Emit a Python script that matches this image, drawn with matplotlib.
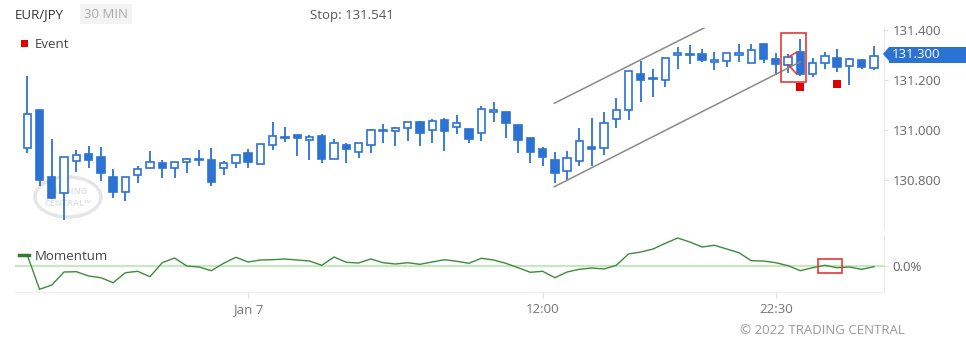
import numpy as np
import matplotlib
matplotlib.use("Agg")
import matplotlib.pyplot as plt
from matplotlib.patches import Rectangle, Ellipse, Polygon

plt.rcParams['font.family'] = ['Open Sans', 'DejaVu Sans']

# 30 min candles, EUR/JPY
opens = [130.927, 131.079, 130.812, 130.747, 130.875, 130.903, 130.891, 130.812, 130.753, 130.820,
         130.849, 130.868, 130.849, 130.871, 130.885, 130.879, 130.849, 130.867, 130.907, 130.865,
         130.939, 130.969, 130.979, 130.960, 130.976, 130.883, 130.939, 130.911, 130.939, 130.995,
         130.996, 131.007, 131.032, 131.001, 131.040, 131.013, 131.005, 130.987, 131.071, 131.073,
         131.019, 130.968, 130.924, 130.879, 130.835, 130.877, 130.933, 130.929, 131.044, 131.080,
         131.223, 131.203, 131.200, 131.300, 131.305, 131.304, 131.272, 131.276, 131.299, 131.269,
         131.343, 131.283, 131.261, 131.311, 131.225, 131.267, 131.288, 131.255, 131.280, 131.247]
highs = [131.216, 131.079, 130.963, 130.893, 130.920, 130.936, 130.932, 130.843, 130.811, 130.856,
         130.916, 130.880, 130.871, 130.888, 130.919, 130.928, 130.877, 130.899, 130.923, 130.944,
         131.031, 131.012, 130.981, 130.979, 130.983, 130.964, 130.947, 130.947, 131.004, 131.023,
         131.013, 131.033, 131.037, 131.045, 131.048, 131.059, 131.005, 131.096, 131.111, 131.073,
         131.019, 130.968, 130.933, 130.911, 130.916, 131.009, 131.048, 131.072, 131.129, 131.236,
         131.276, 131.243, 131.288, 131.331, 131.339, 131.324, 131.311, 131.309, 131.344, 131.344,
         131.343, 131.309, 131.304, 131.363, 131.287, 131.312, 131.325, 131.288, 131.283, 131.337]
lows = [130.907, 130.777, 130.724, 130.640, 130.833, 130.847, 130.795, 130.727, 130.717, 130.787,
        130.847, 130.807, 130.807, 130.827, 130.857, 130.777, 130.820, 130.847, 130.847, 130.864,
        130.920, 130.951, 130.897, 130.881, 130.868, 130.883, 130.867, 130.889, 130.908, 130.949,
        130.937, 130.957, 130.937, 130.949, 130.917, 130.985, 130.949, 130.957, 131.031, 130.969,
        130.908, 130.868, 130.857, 130.789, 130.800, 130.857, 130.857, 130.899, 131.009, 131.040,
        131.111, 131.131, 131.171, 131.243, 131.263, 131.271, 131.241, 131.251, 131.273, 131.269,
        131.269, 131.220, 131.227, 131.216, 131.212, 131.243, 131.232, 131.179, 131.243, 131.241]
closes = [131.063, 130.800, 130.729, 130.893, 130.899, 130.879, 130.827, 130.751, 130.811, 130.845,
          130.871, 130.848, 130.871, 130.885, 130.879, 130.792, 130.867, 130.899, 130.873, 130.943,
          130.975, 130.973, 130.967, 130.971, 130.884, 130.947, 130.924, 130.947, 130.999, 130.997,
          131.007, 131.031, 130.988, 131.035, 130.995, 131.027, 130.965, 131.084, 131.079, 131.029,
          130.960, 130.913, 130.892, 130.827, 130.887, 130.957, 130.925, 131.028, 131.079, 131.236,
          131.199, 131.207, 131.287, 131.309, 131.299, 131.281, 131.281, 131.309, 131.308, 131.320,
          131.285, 131.263, 131.291, 131.225, 131.267, 131.295, 131.252, 131.285, 131.251, 131.297]

# momentum (%)
momentum = [0.107, -0.236, -0.193, -0.063, -0.060, -0.103, -0.120, -0.170, -0.070, -0.056,
            -0.110, 0.030, 0.077, -0.003, -0.013, -0.050, 0.024, 0.084, 0.037, 0.057,
            0.060, 0.067, 0.057, 0.047, 0.004, 0.087, 0.034, 0.027, 0.067, 0.030,
            0.017, 0.030, 0.014, 0.037, 0.060, 0.044, 0.024, 0.074, 0.057, 0.024,
            -0.020, -0.066, -0.056, -0.120, -0.063, -0.036, -0.023, -0.033, 0.004, 0.117,
            0.137, 0.167, 0.224, 0.277, 0.237, 0.187, 0.204, 0.167, 0.130, 0.050,
            0.047, 0.030, 0.000, -0.050, -0.020, 0.004, -0.020, -0.013, -0.036, -0.010]

time_ticks = [18, 42, 61]
time_labels = ["Jan 7", "12:00", "22:30"]
price_ticks = [130.8, 131.0, 131.2, 131.4]
event_idx = [63, 66]
event_price = [131.173, 131.184]
# channel lines (start/end index, price)
channel_upper = ([42.95, 55.15], [131.107, 131.408])
channel_lower = ([42.95, 62.97], [130.773, 131.272])
last_price = 131.300
stop = 131.541

W, H = 966, 348
blue = '#2b72d3'
grey = '#666666'


def fx(x):
    return x / W


def fy(y):
    return 1 - y / H


fig = plt.figure(figsize=(W / 100, H / 100), dpi=100)
ax = fig.add_axes([fx(15), fy(228), fx(884 - 15), (228 - 28) / H])
axm = fig.add_axes([fx(15), fy(292), fx(884 - 15), (292 - 236) / H])

# candles
bw = 0.6
for i in range(len(opens)):
    o, h, l, c = opens[i], highs[i], lows[i], closes[i]
    ax.plot([i, i], [l, h], color=blue, lw=1.3, zorder=2, solid_capstyle='butt')
    bot = min(o, c)
    ht = max(abs(c - o), 0.003)
    face = 'white' if c >= o else blue
    ax.add_patch(Rectangle((i - bw / 2, bot), bw, ht, facecolor=face,
                           edgecolor=blue, lw=1.2, zorder=3))

# trend channel
ax.plot(channel_upper[0], channel_upper[1], color='#8a8a8a', lw=1.1, zorder=4)
ax.plot(channel_lower[0], channel_lower[1], color='#8a8a8a', lw=1.1, zorder=4)

# pattern highlight
ax.add_patch(Rectangle((61.42, 131.193), 2.02, 0.194, fill=False,
                       edgecolor='#e53935', lw=1.2, zorder=5))
ax.plot([62, 62.7], [closes[62], opens[63]], color='#e53935', lw=1.1, zorder=5)
ax.plot([62, 62.7], [opens[62], closes[63]], color='#e53935', lw=1.1, zorder=5)

ax.scatter(event_idx, event_price, marker='s', s=30, color='#e00000', zorder=5, linewidths=0)

ax.set_xlim(-1.0, 69.82)
ax.set_ylim(131 - 98 / 250, 131 + 102 / 250)
ax.yaxis.tick_right()
ax.set_yticks(price_ticks)
ax.set_yticklabels([f"{p:.3f}" for p in price_ticks])
ax.tick_params(axis='y', colors='#e0e0e0', labelcolor=grey, labelsize=9.5, length=3, pad=3)
ax.set_xticks([])
for s in ['top', 'left', 'bottom']:
    ax.spines[s].set_visible(False)
ax.spines['right'].set_color('#e8e8e8')

# watermark
ax.add_patch(Ellipse((fx(68), fy(197)), fx(66), 40 / H, transform=fig.transFigure,
                     fill=False, edgecolor='#e6e6e6', lw=2.5, zorder=1))
ax.text(fx(68), fy(192), "TRADING", transform=fig.transFigure, ha='center', va='center',
        fontsize=6.5, fontweight='bold', color='#e3e3e3', zorder=1)
ax.text(fx(68), fy(203), "CENTRAL\u2122", transform=fig.transFigure, ha='center', va='center',
        fontsize=6.5, fontweight='bold', color='#e3e3e3', zorder=1)

# momentum panel
x = np.arange(len(momentum))
axm.axhline(0, color='#c8e6c0', lw=1.6, zorder=1)
axm.plot(x, momentum, color='#3d8b3d', lw=1.0, zorder=2)
axm.add_patch(Rectangle((64.42, -0.076), 2.0, 0.14, fill=False,
                        edgecolor='#e53935', lw=1.2, zorder=3))
axm.set_xlim(-1.0, 69.82)
axm.set_ylim(-0.263, 0.297)
axm.yaxis.tick_right()
axm.set_yticks([0])
axm.set_yticklabels(["0.0%"])
axm.tick_params(axis='y', colors='#e0e0e0', labelcolor=grey, labelsize=9.5, length=3, pad=3)
axm.set_xticks(time_ticks)
axm.set_xticklabels(time_labels)
axm.tick_params(axis='x', colors='#e0e0e0', labelcolor='#777777', labelsize=9.5, length=4, pad=4)
for s in ['top', 'left']:
    axm.spines[s].set_visible(False)
axm.spines['right'].set_color('#e8e8e8')
axm.spines['bottom'].set_color('#eeeeee')

# last price tag
fig.patches.append(Polygon([(fx(883), fy(54)), (fx(889), fy(47)), (fx(966), fy(47)),
                            (fx(966), fy(63)), (fx(889), fy(63)), (fx(889), fy(61))],
                           closed=True, transform=fig.transFigure, facecolor=blue,
                           edgecolor='none', figure=fig))
fig.text(fx(892), fy(55), f"{last_price:.3f}", color='white', fontsize=9.5,
         ha='left', va='center')

# header texts
fig.text(fx(15), fy(15), "EUR/JPY", color='#333333', fontsize=9.5, va='center')
fig.patches.append(Rectangle((fx(80), fy(24)), fx(52), 20 / H, transform=fig.transFigure,
                             facecolor='#f3f3f3', edgecolor='none', figure=fig))
fig.text(fx(106), fy(15), "30 MIN", color='#aaaaaa', fontsize=9.5, ha='center', va='center')
fig.text(fx(310), fy(15), f"Stop: {stop:.3f}", color='#555555', fontsize=9.5, va='center')

# legends
fig.patches.append(Rectangle((fx(21), fy(47)), fx(7), 7 / H, transform=fig.transFigure,
                             facecolor='#e00000', edgecolor='none', figure=fig))
fig.text(fx(35), fy(44), "Event", color='#444444', fontsize=9.5, va='center')
fig.lines.append(plt.Line2D([fx(19), fx(29)], [fy(255), fy(255)], transform=fig.transFigure,
                            color='#2e7d32', lw=2.5, figure=fig))
fig.text(fx(35), fy(256), "Momentum", color='#444444', fontsize=9.5, va='center')

fig.text(fx(905), fy(330), "\u00a9 2022 TRADING CENTRAL", color='#999999', fontsize=9.5,
         ha='right', va='center')

fig.savefig("out.png", dpi=100)
